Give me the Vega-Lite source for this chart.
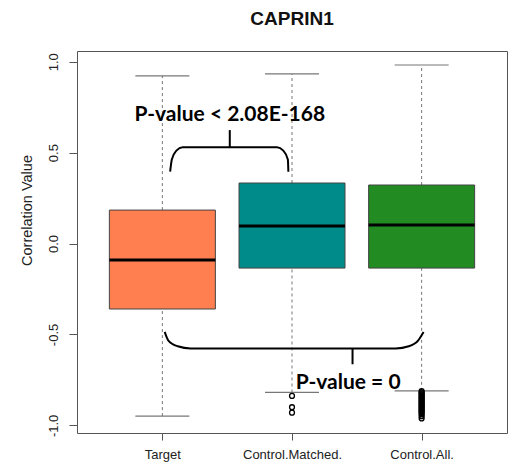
{
  "$schema": "https://vega.github.io/schema/vega-lite/v6.json",
  "width": 430,
  "height": 382,
  "autosize": {"type": "none"},
  "padding": {"left": 77, "top": 51, "right": 9, "bottom": 37},
  "background": "white",
  "title": {"text": "CAPRIN1", "font": "Liberation Sans", "fontSize": 19, "fontWeight": "bold", "color": "#111", "anchor": "middle", "baseline": "alphabetic", "offset": 7},
  "config": {
    "view": {"stroke": "#555", "strokeWidth": 1},
    "axis": {"domain": false, "grid": false, "tickColor": "#555", "labelColor": "#222", "labelFont": "Liberation Sans", "titleFont": "Liberation Sans", "titleColor": "#222", "titleFontWeight": "normal"}
  },
  "datasets": {
    "boxes": [
      {"group": "Target", "idx": 1, "lower": -0.949, "q1": -0.36, "median": -0.091, "q3": 0.184, "upper": 0.922},
      {"group": "Control.Matched.", "idx": 2, "lower": -0.819, "q1": -0.135, "median": 0.096, "q3": 0.333, "upper": 0.933},
      {"group": "Control.All.", "idx": 3, "lower": -0.81, "q1": -0.135, "median": 0.102, "q3": 0.322, "upper": 0.982}
    ],
    "outliers": [
      {"group": "Control.Matched.", "idx": 2, "value": -0.838},
      {"group": "Control.Matched.", "idx": 2, "value": -0.9},
      {"group": "Control.Matched.", "idx": 2, "value": -0.93},
      {"group": "Control.All.", "idx": 3, "value": -0.812},
      {"group": "Control.All.", "idx": 3, "value": -0.818},
      {"group": "Control.All.", "idx": 3, "value": -0.824},
      {"group": "Control.All.", "idx": 3, "value": -0.83},
      {"group": "Control.All.", "idx": 3, "value": -0.836},
      {"group": "Control.All.", "idx": 3, "value": -0.842},
      {"group": "Control.All.", "idx": 3, "value": -0.848},
      {"group": "Control.All.", "idx": 3, "value": -0.854},
      {"group": "Control.All.", "idx": 3, "value": -0.86},
      {"group": "Control.All.", "idx": 3, "value": -0.866},
      {"group": "Control.All.", "idx": 3, "value": -0.872},
      {"group": "Control.All.", "idx": 3, "value": -0.878},
      {"group": "Control.All.", "idx": 3, "value": -0.884},
      {"group": "Control.All.", "idx": 3, "value": -0.89},
      {"group": "Control.All.", "idx": 3, "value": -0.896},
      {"group": "Control.All.", "idx": 3, "value": -0.902},
      {"group": "Control.All.", "idx": 3, "value": -0.908},
      {"group": "Control.All.", "idx": 3, "value": -0.914},
      {"group": "Control.All.", "idx": 3, "value": -0.92},
      {"group": "Control.All.", "idx": 3, "value": -0.926},
      {"group": "Control.All.", "idx": 3, "value": -0.932},
      {"group": "Control.All.", "idx": 3, "value": -0.94},
      {"group": "Control.All.", "idx": 3, "value": -0.95},
      {"group": "Control.All.", "idx": 3, "value": -0.962}
    ],
    "braces": [
      {"brace": "top", "order": 1, "x": 1.06, "y": 0.395},
      {"brace": "top", "order": 2, "x": 1.073, "y": 0.462},
      {"brace": "top", "order": 3, "x": 1.108, "y": 0.511},
      {"brace": "top", "order": 4, "x": 1.156, "y": 0.529},
      {"brace": "top", "order": 5, "x": 1.885, "y": 0.529},
      {"brace": "top", "order": 6, "x": 1.933, "y": 0.511},
      {"brace": "top", "order": 7, "x": 1.968, "y": 0.462},
      {"brace": "top", "order": 8, "x": 1.972, "y": 0.395},
      {"brace": "bottom", "order": 1, "x": 1.018, "y": -0.486},
      {"brace": "bottom", "order": 2, "x": 1.045, "y": -0.532},
      {"brace": "bottom", "order": 3, "x": 1.118, "y": -0.565},
      {"brace": "bottom", "order": 4, "x": 1.219, "y": -0.577},
      {"brace": "bottom", "order": 5, "x": 2.801, "y": -0.577},
      {"brace": "bottom", "order": 6, "x": 2.901, "y": -0.565},
      {"brace": "bottom", "order": 7, "x": 2.974, "y": -0.532},
      {"brace": "bottom", "order": 8, "x": 3.015, "y": -0.486}
    ],
    "braceTicks": [
      {"x": 1.52, "y": 0.529, "y2": 0.624},
      {"x": 2.467, "y": -0.577, "y2": -0.664}
    ],
    "notes": [
      {"x": 1.52, "y": 0.674, "text": "P-value < 2.08E-168"},
      {"x": 2.433, "y": -0.801, "text": "P-value = 0"}
    ]
  },
  "layer": [
    {
      "data": {"name": "boxes"},
      "mark": {"type": "rule", "color": "#777", "strokeDash": [3, 3], "strokeWidth": 1},
      "encoding": {
        "x": {"field": "idx", "type": "quantitative", "title": null,
              "scale": {"domain": [0.38, 3.62], "nice": false, "zero": false},
              "axis": {"values": [1, 2, 3], "tickSize": 7, "labelFontSize": 13, "labelPadding": 8, "labelExpr": "datum.value == 1 ? 'Target' : datum.value == 2 ? 'Control.Matched.' : 'Control.All.'"}},
        "y": {"field": "lower", "type": "quantitative", "title": "Correlation Value",
              "scale": {"domain": [-1.042, 1.059], "nice": false, "zero": false},
              "axis": {"title": "Correlation Value", "values": [-1, -0.5, 0, 0.5, 1], "tickSize": 8, "labelFontSize": 13, "labelAngle": -90, "labelAlign": "center", "labelBaseline": "bottom", "labelPadding": 9, "labelExpr": "replace(format(datum.value, '.1f'), '\u2212', '-')", "titleFontSize": 14.5, "titleX": -50, "titleY": 159, "titleAngle": -90, "titleAlign": "center", "titleBaseline": "middle"}},
        "y2": {"field": "q1"}
      }
    },
    {
      "data": {"name": "boxes"},
      "mark": {"type": "rule", "color": "#777", "strokeDash": [3, 3], "strokeWidth": 1},
      "encoding": {
        "x": {"field": "idx", "type": "quantitative"},
        "y": {"field": "q3", "type": "quantitative"},
        "y2": {"field": "upper"}
      }
    },
    {
      "data": {"name": "boxes"},
      "mark": {"type": "tick", "orient": "horizontal", "color": "#777", "size": 54, "thickness": 1.2, "opacity": 1},
      "encoding": {
        "x": {"field": "idx", "type": "quantitative"},
        "y": {"field": "upper", "type": "quantitative"}
      }
    },
    {
      "data": {"name": "boxes"},
      "mark": {"type": "tick", "orient": "horizontal", "color": "#777", "size": 54, "thickness": 1.2, "opacity": 1},
      "encoding": {
        "x": {"field": "idx", "type": "quantitative"},
        "y": {"field": "lower", "type": "quantitative"}
      }
    },
    {
      "data": {"name": "boxes"},
      "mark": {"type": "bar", "size": 106, "stroke": "#444", "strokeWidth": 1, "orient": "vertical"},
      "encoding": {
        "x": {"field": "idx", "type": "quantitative"},
        "y": {"field": "q1", "type": "quantitative"},
        "y2": {"field": "q3"},
        "color": {"field": "group", "type": "nominal", "legend": null,
                  "scale": {"domain": ["Target", "Control.Matched.", "Control.All."], "range": ["#FF7F50", "#008B8B", "#228B22"]}}
      }
    },
    {
      "data": {"name": "boxes"},
      "mark": {"type": "tick", "orient": "horizontal", "color": "#000", "size": 106, "thickness": 3, "opacity": 1},
      "encoding": {
        "x": {"field": "idx", "type": "quantitative"},
        "y": {"field": "median", "type": "quantitative"}
      }
    },
    {
      "data": {"name": "outliers"},
      "mark": {"type": "point", "shape": "circle", "filled": false, "color": "#000", "size": 24, "strokeWidth": 1.3, "opacity": 1},
      "encoding": {
        "x": {"field": "idx", "type": "quantitative"},
        "y": {"field": "value", "type": "quantitative"}
      }
    },
    {
      "data": {"name": "braces"},
      "mark": {"type": "line", "color": "#000", "strokeWidth": 2, "interpolate": "monotone"},
      "encoding": {
        "x": {"field": "x", "type": "quantitative"},
        "y": {"field": "y", "type": "quantitative"},
        "detail": {"field": "brace", "type": "nominal"},
        "order": {"field": "order", "type": "quantitative"}
      }
    },
    {
      "data": {"name": "braceTicks"},
      "mark": {"type": "rule", "color": "#000", "strokeWidth": 2},
      "encoding": {
        "x": {"field": "x", "type": "quantitative"},
        "y": {"field": "y", "type": "quantitative"},
        "y2": {"field": "y2"}
      }
    },
    {
      "data": {"name": "notes"},
      "mark": {"type": "text", "font": "Lato", "fontWeight": "bold", "fontSize": 21, "color": "#000", "align": "center", "baseline": "alphabetic"},
      "encoding": {
        "x": {"field": "x", "type": "quantitative"},
        "y": {"field": "y", "type": "quantitative"},
        "text": {"field": "text", "type": "nominal"}
      }
    }
  ]
}
